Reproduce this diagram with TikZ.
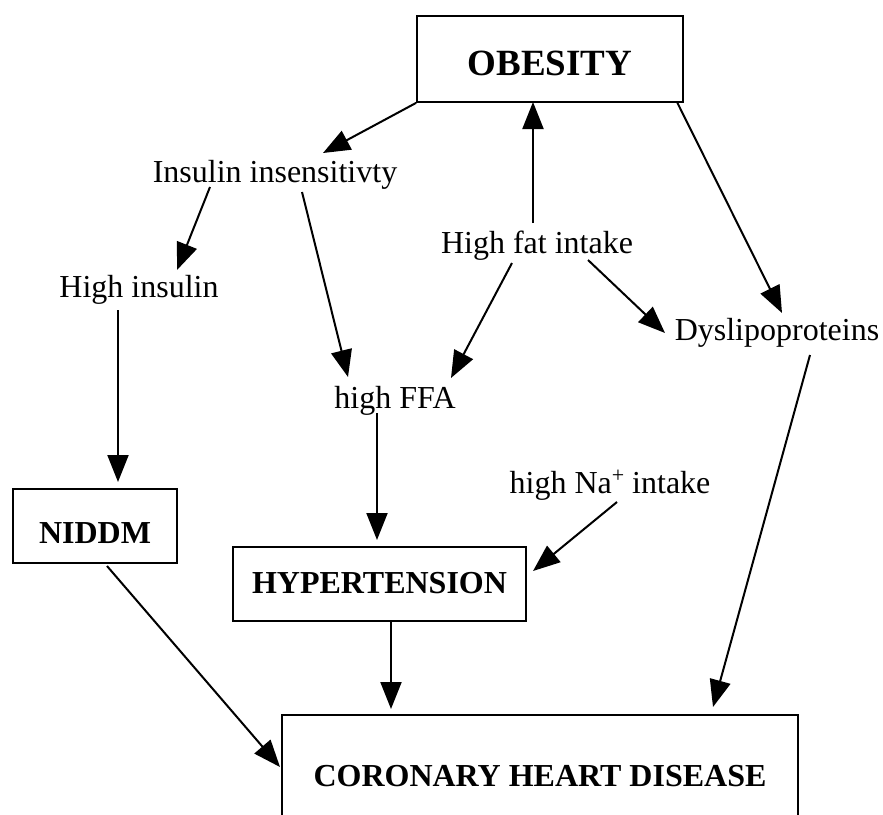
\documentclass[tikz,border=0pt]{standalone}
\usepackage{fontspec}
\setmainfont{Liberation Serif}
\usetikzlibrary{arrows.meta}
\tikzset{
  lbl/.style={anchor=base, inner sep=0pt, font=\fontsize{32}{38}\selectfont},
  boxnode/.style={draw, line width=1.8pt, inner sep=0pt, font=\fontsize{32}{38}\selectfont\bfseries},
  arr/.style={line width=2pt, -{Triangle[length=27pt, width=21pt]}}
}
\begin{document}
\begin{tikzpicture}[x=1pt,y=-1pt]
\useasboundingbox (0,0) rectangle (883,814);
\clip (0,0) rectangle (883,814);
\fill[white] (0,0) rectangle (883,814);
% boxes
\node[boxnode, minimum width=266pt, minimum height=86pt, text height=32pt, text depth=0pt,
      font=\fontsize{37}{44}\selectfont\bfseries] (ob) at (550,59) {OBESITY};
\node[boxnode, minimum width=164pt, minimum height=74pt, text height=34pt, text depth=0pt] (niddm) at (95,526) {NIDDM};
\node[boxnode, minimum width=293pt, minimum height=74pt, text height=18pt, text depth=0pt] (hyp) at (379.5,584) {HYPERTENSION};
\node[boxnode, minimum width=516pt, minimum height=125pt, text height=21pt, text depth=3pt] (chd) at (540,777.5) {CORONARY HEART DISEASE};
% labels
\node[lbl] (ins) at (275,182) {Insulin insensitivty};
\node[lbl] (hins) at (139,297) {High insulin};
\node[lbl] (hfat) at (537,253) {High fat intake};
\node[lbl] (dys) at (777,340) {Dyslipoproteins};
\node[lbl] (ffa) at (395,408) {high FFA};
\node[lbl] (na) at (610,493) {high Na\raisebox{11pt}{\fontsize{22}{22}\selectfont +} intake};
% connectors
\draw[arr] (ob.south west) -- ([shift={(48,-29)}]ins.base);
\draw[arr] ([shift={(-4,-30)}]hfat.base) -- ([shift={(-17,43)}]ob.center);
\draw[arr] ([shift={(127,43)}]ob.center) -- ([shift={(5,-27)}]dys.base);
\draw[arr] ([shift={(-65,5)}]ins.base) -- ([shift={(38,-27)}]hins.base);
\draw[arr] ([shift={(27,10)}]ins.base) -- ([shift={(-47,-31)}]ffa.base);
\draw[arr] ([shift={(-25,10)}]hfat.base) -- ([shift={(56,-30)}]ffa.base);
\draw[arr] ([shift={(51,7)}]hfat.base) -- ([shift={(-112,-7)}]dys.base);
\draw[arr] ([shift={(-21,13)}]hins.base) -- ([shift={(23,-44)}]niddm.center);
\draw[arr] ([shift={(-18,5)}]ffa.base) -- ([shift={(-2.5,-44)}]hyp.center);
\draw[arr] ([shift={(7,9)}]na.base) -- ([shift={(153.5,-13)}]hyp.center);
\draw[arr] ([shift={(33,15)}]dys.base) -- ([shift={(173,-70.5)}]chd.center);
\draw[arr] ([shift={(12,40)}]niddm.center) -- ([shift={(-260,-10.5)}]chd.center);
\draw[arr] ([shift={(11.5,37)}]hyp.center) -- ([shift={(-149,-68.5)}]chd.center);
\end{tikzpicture}
\end{document}
